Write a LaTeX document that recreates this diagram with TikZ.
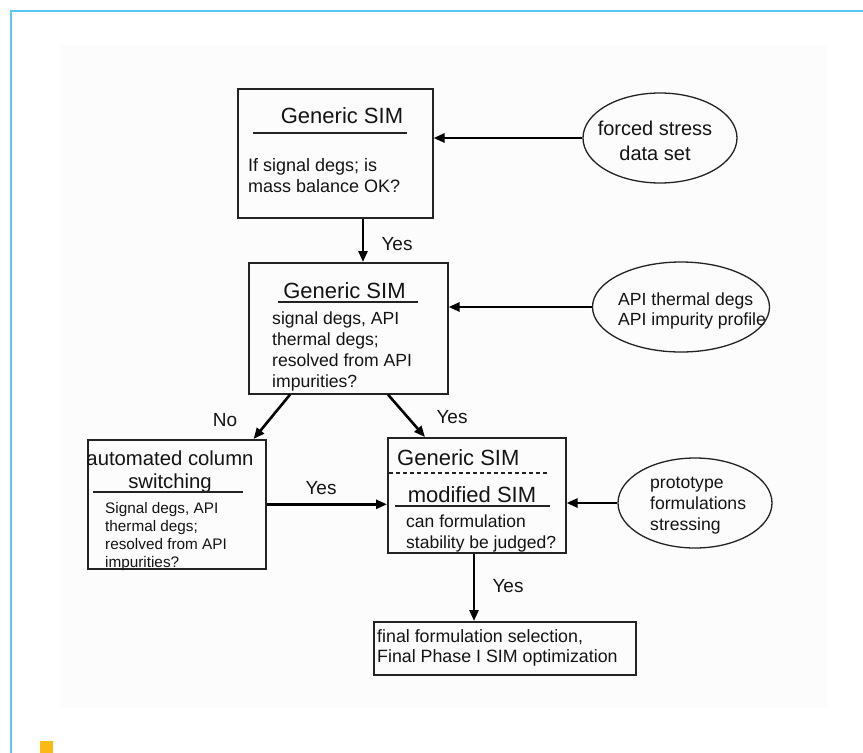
\documentclass[tikz,border=0pt]{standalone}
\usepackage{fontspec}
\setmainfont{Liberation Sans}
\usetikzlibrary{shapes.geometric,arrows.meta,calc}
\definecolor{frameblue}{RGB}{90,200,245}
\definecolor{markyel}{RGB}{253,185,19}
\definecolor{lineg}{RGB}{35,35,35}
\definecolor{txtc}{RGB}{20,20,20}
\begin{document}
\begin{tikzpicture}[x=1pt,y=-1pt,
  box/.style={draw=lineg, line width=1.6pt, rectangle, inner sep=0pt, anchor=north west},
  ell/.style={draw=lineg, line width=1.3pt, ellipse, inner sep=0pt},
  arr/.style={line width=2.6pt, draw=black, -{Triangle[length=11pt,width=9pt]}},
  rulel/.style={line width=1.5pt, draw=lineg},
  ttl/.style={inner sep=0pt, text=txtc, font=\fontsize{22}{26}\selectfont},
  txt/.style={inner sep=0pt, text=txtc, align=left, font=\fontsize{17.6}{21}\selectfont},
  lbl/.style={inner sep=0pt, text=txtc, anchor=base, font=\fontsize{19}{22}\selectfont}]
\useasboundingbox (0,0) rectangle (863,753);
\fill[white] (0,0) rectangle (863,753);
\fill[black!1] (60,45) rectangle (827,708);
\draw[line width=2pt, frameblue] (11,770) -- (11,11) -- (880,11);
\fill[markyel] (40,741) rectangle (53,770);

% boxes
\node[box, minimum width=195pt, minimum height=129pt] (b1) at (237,88) {};
\node[box, minimum width=199pt, minimum height=131pt] (b2) at (248,262) {};
\node[box, minimum width=178pt, minimum height=129pt] (b3) at (87,439) {};
\node[box, minimum width=178pt, minimum height=115pt] (b4) at (387,437) {};
\node[box, minimum width=262pt, minimum height=53pt] (b5) at (373,621) {};

% ellipses
\node[ell, minimum width=154pt, minimum height=90pt] (e1) at (660,138) {};
\node[ell, minimum width=177pt, minimum height=90pt] (e2) at (681,307) {};
\node[ell, minimum width=154pt, minimum height=90pt] (e3) at (695,503) {};

% box 1 text (multi-line nodes: base = baseline of last line)
\node[ttl, anchor=base] (t1) at (342,123) {Generic SIM};
\draw[rulel] (253,133) -- (407,133);
\node[txt, anchor=base west, font=\fontsize{18}{21}\selectfont] (t1b) at (248,192) {If signal degs; is\\mass balance OK?};

% box 2 text
\node[ttl, anchor=base] (t2) at (344.5,298) {Generic SIM};
\draw[rulel] (278,302) -- (418,302);
\node[txt, anchor=base west, font=\fontsize{17.6}{20.7}\selectfont] (t2b) at (272,387) {signal degs, API\\thermal degs;\\resolved from API\\impurities?};

% box 3 text
\node[ttl, anchor=base, align=center, font=\fontsize{20.3}{23}\selectfont] (t3) at (170,488) {automated column\\switching};
\draw[rulel] (93,492) -- (243,492);
\node[txt, anchor=base west, font=\fontsize{15.3}{17.7}\selectfont] (t3b) at (105,567) {Signal degs, API\\thermal degs;\\resolved from API\\impurities?};

% box 4 text
\node[ttl, anchor=base west] (t4) at (397,465) {Generic SIM};
\draw[line width=1.2pt, draw=lineg, dash pattern=on 4pt off 3pt] (389,473) -- (547,473);
\node[ttl, anchor=base] (t4m) at (472,502) {modified SIM};
\draw[rulel] (395,506) -- (550,506);
\node[txt, anchor=base west, font=\fontsize{17.5}{21}\selectfont] (t4b) at (406,548) {can formulation\\stability be judged?};

% box 5 text
\node[txt, anchor=base west, font=\fontsize{17.8}{20}\selectfont] (t5) at (377,662) {final formulation selection,\\Final Phase I SIM optimization};

% ellipse texts
\node[inner sep=0pt, text=txtc, align=center, anchor=base, font=\fontsize{20}{25}\selectfont] (te1) at (655,160) {forced stress\\data set};
\node[txt, anchor=base west, font=\fontsize{17.6}{20}\selectfont] (te2) at (618,325) {API thermal degs\\API impurity profile};
\node[txt, anchor=base west, font=\fontsize{17.6}{21}\selectfont] (te3) at (650,530) {prototype\\formulations\\stressing};

% helper coordinates
\coordinate (x1) at (363,0);
\coordinate (x5) at (474,0);

% connectors
\draw[arr] (e1.west) -- (b1.east |- e1.west);
\draw[arr] (e2.west) -- (b2.east |- e2.west);
\draw[arr] (e3.west) -- (b4.east |- e3.west);
\draw[arr] (b1.south -| x1) -- (b2.north -| x1);
\draw[arr] ($(b2.south west)+(42,0)$) -- ($(b3.north east)+(-13,0)$);
\draw[arr] ($(b2.south west)+(140,0)$) -- ($(b4.north west)+(38,0)$);
\draw[arr] (b3.east) -- (b4.west |- b3.east);
\draw[arr] (b4.south -| x5) -- (b5.north -| x5);

% labels
\node[lbl] (l1) at (397,250) {Yes};
\node[lbl] (l2) at (225,426) {No};
\node[lbl] (l3) at (452,423) {Yes};
\node[lbl] (l4) at (321,494) {Yes};
\node[lbl] (l5) at (508,592) {Yes};
\end{tikzpicture}
\end{document}
